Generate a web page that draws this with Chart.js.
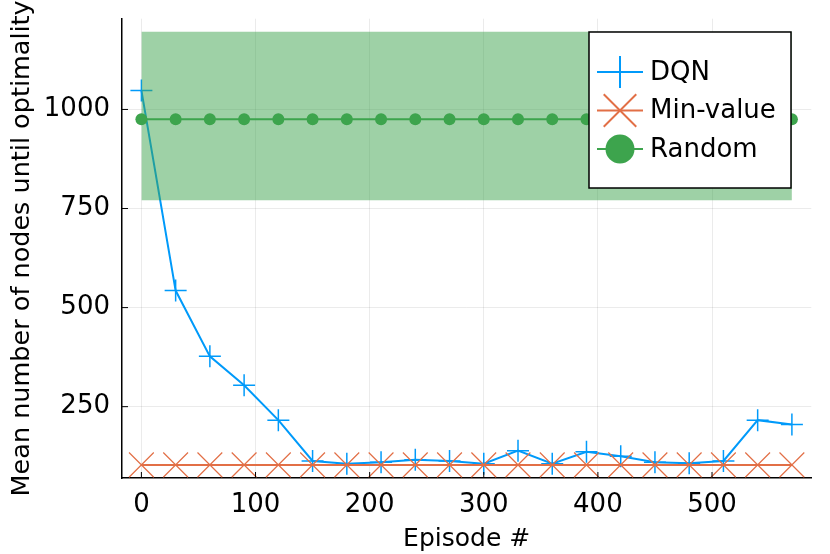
<!DOCTYPE html>
<html>
<head>
<meta charset="utf-8">
<script src="https://cdn.jsdelivr.net/npm/chart.js@4/dist/chart.umd.min.js"></script>
<style>
  html, body { margin: 0; padding: 0; background: #fff; }
  #wrap { width: 830px; height: 554px; }
</style>
</head>
<body>
<div id="wrap"><canvas id="c"></canvas></div>
<script>
// episodes sampled every 30
const episodes = [0, 30, 60, 90, 120, 150, 180, 210, 240, 270, 300, 330, 360, 390, 420, 450, 480, 510, 540, 570];
const dqn = [1048, 543, 377, 304, 216, 113, 106, 110, 116, 113, 106, 139, 106, 136, 125, 110, 107, 113, 216, 205];
const minValue = [103, 103, 103, 103, 103, 103, 103, 103, 103, 103, 103, 103, 103, 103, 103, 103, 103, 103, 103, 103];
const random = [975, 975, 975, 975, 975, 975, 975, 975, 975, 975, 975, 975, 975, 975, 975, 975, 975, 975, 975, 975];
const randomHigh = [1196, 1196, 1196, 1196, 1196, 1196, 1196, 1196, 1196, 1196, 1196, 1196, 1196, 1196, 1196, 1196, 1196, 1196, 1196, 1196];
const randomLow = [771, 771, 771, 771, 771, 771, 771, 771, 771, 771, 771, 771, 771, 771, 771, 771, 771, 771, 771, 771];

const xTicks = [0, 100, 200, 300, 400, 500];
const yTicks = [250, 500, 750, 1000];

const BLUE = '#009AFA', ORANGE = '#E26F46', GREEN = '#3DA44D';
const pts = arr => arr.map((v, i) => ({ x: episodes[i], y: v }));

Chart.defaults.font.family = 'DejaVu Sans';
Chart.defaults.color = '#000';

// short inward tick marks like the original
const innerTicks = {
  id: 'innerTicks',
  afterDraw(chart) {
    const { ctx, chartArea: a, scales } = chart;
    ctx.save();
    ctx.strokeStyle = '#000';
    ctx.lineWidth = 1;
    xTicks.forEach(v => {
      const x = scales.x.getPixelForValue(v);
      ctx.beginPath(); ctx.moveTo(x, a.bottom); ctx.lineTo(x, a.bottom - 6); ctx.stroke();
    });
    yTicks.forEach(v => {
      const y = scales.y.getPixelForValue(v);
      ctx.beginPath(); ctx.moveTo(a.left, y); ctx.lineTo(a.left + 6, y); ctx.stroke();
    });
    ctx.restore();
  }
};

// legend box in top-right corner of the plot
const boxLegend = {
  id: 'boxLegend',
  afterDraw(chart) {
    const ctx = chart.ctx;
    const items = chart.data.datasets.filter(d => d.legend);
    const bx = 589, by = 32, bw = 202, bh = 156;
    ctx.save();
    ctx.fillStyle = '#fff';
    ctx.fillRect(bx, by, bw, bh);
    ctx.strokeStyle = '#000';
    ctx.lineWidth = 1.5;
    ctx.strokeRect(bx, by, bw, bh);
    items.forEach((d, i) => {
      const y = 72 + i * 38.5;
      ctx.strokeStyle = d.borderColor;
      ctx.lineWidth = 2;
      ctx.beginPath(); ctx.moveTo(597, y); ctx.lineTo(643, y); ctx.stroke();
      ctx.fillStyle = d.pointBackgroundColor || d.borderColor;
      ctx.strokeStyle = d.pointBorderColor || d.borderColor;
      Chart.helpers.drawPoint(ctx, {
        pointStyle: d.pointStyle, radius: d.legend.r, rotation: 0,
        borderWidth: 1.5
      }, 620, y);
      ctx.fillStyle = '#000';
      ctx.font = '26px "DejaVu Sans"';
      ctx.textAlign = 'left';
      ctx.textBaseline = 'middle';
      ctx.fillText(d.label, 650, y + 1);
    });
    ctx.restore();
  }
};

new Chart(document.getElementById('c'), {
  type: 'line',
  data: {
    datasets: [
      {
        label: 'DQN', data: pts(dqn), order: 3,
        borderColor: BLUE, borderWidth: 2, pointStyle: 'cross', pointRadius: 11,
        pointBorderColor: BLUE, pointBorderWidth: 1.5, legend: { r: 16 }
      },
      {
        label: 'Min-value', data: pts(minValue), order: 2,
        borderColor: ORANGE, borderWidth: 2, pointStyle: 'crossRot', pointRadius: 17.5,
        pointBorderColor: ORANGE, pointBorderWidth: 1.2, legend: { r: 23 }
      },
      {
        label: 'band-high', data: pts(randomHigh), order: 1,
        borderWidth: 0, pointRadius: 0, fill: '+1',
        backgroundColor: 'rgba(61,164,77,0.5)'
      },
      {
        label: 'band-low', data: pts(randomLow), order: 1,
        borderWidth: 0, pointRadius: 0, fill: false
      },
      {
        label: 'Random', data: pts(random), order: 0,
        borderColor: GREEN, borderWidth: 2, pointStyle: 'circle', pointRadius: 6,
        pointBackgroundColor: GREEN, pointBorderColor: GREEN, pointBorderWidth: 0,
        legend: { r: 13.5 }
      }
    ]
  },
  options: {
    responsive: true,
    maintainAspectRatio: false,
    animation: false,
    layout: { padding: { top: 16, right: 17, left: 0, bottom: 0 } },
    plugins: { legend: { display: false }, tooltip: { enabled: false } },
    elements: { line: { tension: 0 } },
    scales: {
      x: {
        type: 'linear', min: -17, max: 587,
        afterFit(s) { s.height = 76; s.paddingLeft = 0; s.paddingRight = 0; },
        afterBuildTicks(s) { s.ticks = xTicks.map(v => ({ value: v })); },
        ticks: { font: { size: 26 }, padding: 12, maxRotation: 0, callback: v => String(v) },
        grid: { color: 'rgba(0,0,0,0.08)', lineWidth: 1, drawTicks: false },
        border: { color: '#000', width: 1.5 },
        title: { display: true, text: 'Episode #', font: { size: 25 }, padding: { top: 0, bottom: 0 } }
      },
      y: {
        type: 'linear', min: 70, max: 1229,
        afterFit(s) { s.width = 122; s.paddingTop = 0; s.paddingBottom = 0; },
        afterBuildTicks(s) { s.ticks = yTicks.map(v => ({ value: v })); },
        ticks: { font: { size: 26 }, padding: 12, callback: v => String(v) },
        grid: { color: 'rgba(0,0,0,0.08)', lineWidth: 1, drawTicks: false },
        border: { color: '#000', width: 1.5 },
        title: { display: true, text: 'Mean number of nodes until optimality', font: { size: 25.5 }, padding: { top: 7, bottom: 0 } }
      }
    }
  },
  plugins: [innerTicks, boxLegend]
});
</script>
</body>
</html>
